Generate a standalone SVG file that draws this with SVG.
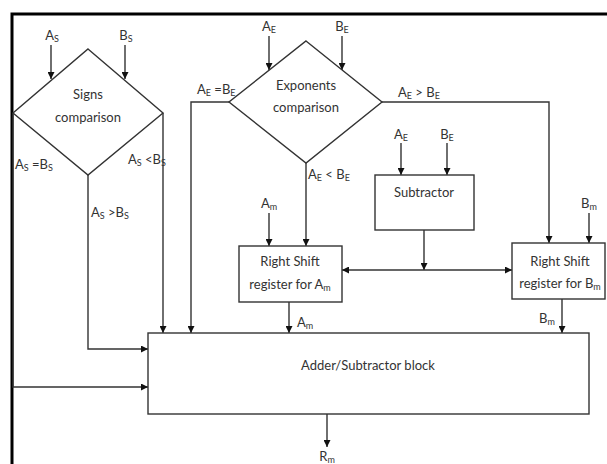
<svg xmlns="http://www.w3.org/2000/svg" width="607" height="464" viewBox="0 0 607 464">
<defs>
<marker id="ah" viewBox="0 0 10 10" refX="10" refY="5" markerWidth="7" markerHeight="7" orient="auto-start-reverse" markerUnits="userSpaceOnUse">
<path d="M0,0 L10,5 L0,10 z" fill="#111"/>
</marker>
<style>
.ln{fill:none;stroke:#333;stroke-width:1.4}
.ar{fill:none;stroke:#333;stroke-width:1.4;marker-end:url(#ah)}
.sh{fill:#fff;stroke:#333;stroke-width:1.4}
.t{font-family:Lato,"Liberation Sans",sans-serif;font-size:13px;fill:#333;text-anchor:middle}
.l{font-family:Lato,"Liberation Sans",sans-serif;font-size:13px;fill:#333}
.s{font-size:9px}
</style>
</defs>
<rect width="607" height="464" fill="#fff"/>
<g id="frame">
<path d="M12,464 V14 H607" fill="none" stroke="#000" stroke-width="3"/>
</g>
<g id="connectors">
<path class="ar" d="M51,45 V79"/>
<path class="ar" d="M125,45 V79"/>
<path class="ar" d="M13,113 V387 H148"/>
<path class="ar" d="M163,113 V333"/>
<path class="ar" d="M88,175 V349 H148"/>
<path class="ar" d="M269,36 V70"/>
<path class="ar" d="M342,36 V70"/>
<path class="ar" d="M229,102 H191 V333"/>
<path class="ar" d="M382,102 H549 V243"/>
<path class="ar" d="M306,163 V246"/>
<path class="ar" d="M401,143 V175"/>
<path class="ar" d="M447,143 V175"/>
<path class="ar" d="M424,230 V270"/>
<path class="ar" d="M424,270 H342"/>
<path class="ar" d="M424,270 H512"/>
<path class="ar" d="M269,213 V246"/>
<path class="ar" d="M289,302 V333"/>
<path class="ar" d="M589,213 V243"/>
<path class="ar" d="M562,299 V333"/>
<path class="ar" d="M327,414 V447"/>
</g>
<g id="labels">
<text class="l" x="52" y="40" text-anchor="middle">A<tspan class="s" dy="2">S</tspan></text>
<text class="l" x="126" y="40" text-anchor="middle">B<tspan class="s" dy="2">S</tspan></text>
<text class="l" x="15" y="169">A<tspan class="s" dy="2">S</tspan><tspan dy="-2"> =B</tspan><tspan class="s" dy="2">S</tspan></text>
<text class="l" x="128" y="164">A<tspan class="s" dy="2">S</tspan><tspan dy="-2"> &lt;B</tspan><tspan class="s" dy="2">S</tspan></text>
<text class="l" x="91" y="217">A<tspan class="s" dy="2">S</tspan><tspan dy="-2"> &gt;B</tspan><tspan class="s" dy="2">S</tspan></text>
<text class="l" x="269" y="31" text-anchor="middle">A<tspan class="s" dy="2">E</tspan></text>
<text class="l" x="342" y="31" text-anchor="middle">B<tspan class="s" dy="2">E</tspan></text>
<text class="l" x="197" y="94">A<tspan class="s" dy="2">E</tspan><tspan dy="-2"> =B</tspan><tspan class="s" dy="2">E</tspan></text>
<text class="l" x="398" y="97">A<tspan class="s" dy="2">E</tspan><tspan dy="-2"> &gt; B</tspan><tspan class="s" dy="2">E</tspan></text>
<text class="l" x="308" y="179">A<tspan class="s" dy="2">E</tspan><tspan dy="-2"> &lt; B</tspan><tspan class="s" dy="2">E</tspan></text>
<text class="l" x="401" y="139" text-anchor="middle">A<tspan class="s" dy="2">E</tspan></text>
<text class="l" x="447" y="139" text-anchor="middle">B<tspan class="s" dy="2">E</tspan></text>
<text class="l" x="269" y="208" text-anchor="middle">A<tspan class="s" dy="2">m</tspan></text>
<text class="l" x="589" y="208" text-anchor="middle">B<tspan class="s" dy="2">m</tspan></text>
<text class="l" x="297" y="327">A<tspan class="s" dy="2">m</tspan></text>
<text class="l" x="539" y="323">B<tspan class="s" dy="2">m</tspan></text>
<text class="l" x="327" y="461" text-anchor="middle">R<tspan class="s" dy="2">m</tspan></text>
</g>
<g id="signs">
<polygon class="sh" points="88,49 163,113 88,175 13,113"/>
<text class="t" x="88" y="99">Signs</text>
<text class="t" x="88" y="122">comparison</text>
</g>
<g id="exponents">
<polygon class="sh" points="306,41 382,102 306,163 229,102"/>
<text class="t" x="306" y="90">Exponents</text>
<text class="t" x="306" y="112">comparison</text>
</g>
<g id="subtractor">
<rect class="sh" x="375" y="175" width="99" height="55"/>
<text class="t" x="424" y="197">Subtractor</text>
</g>
<g id="regA">
<rect class="sh" x="239" y="246" width="103" height="56"/>
<text class="t" x="290" y="266">Right Shift</text>
<text class="t" x="290" y="289">register for A<tspan class="s" dy="2">m</tspan></text>
</g>
<g id="regB">
<rect class="sh" x="512" y="243" width="93" height="56"/>
<text class="t" x="560" y="266">Right Shift</text>
<text class="t" x="560" y="288">register for B<tspan class="s" dy="2">m</tspan></text>
</g>
<g id="adder">
<rect class="sh" x="148" y="333" width="441" height="81"/>
<text class="t" x="368" y="370">Adder/Subtractor block</text>
</g>
</svg>
